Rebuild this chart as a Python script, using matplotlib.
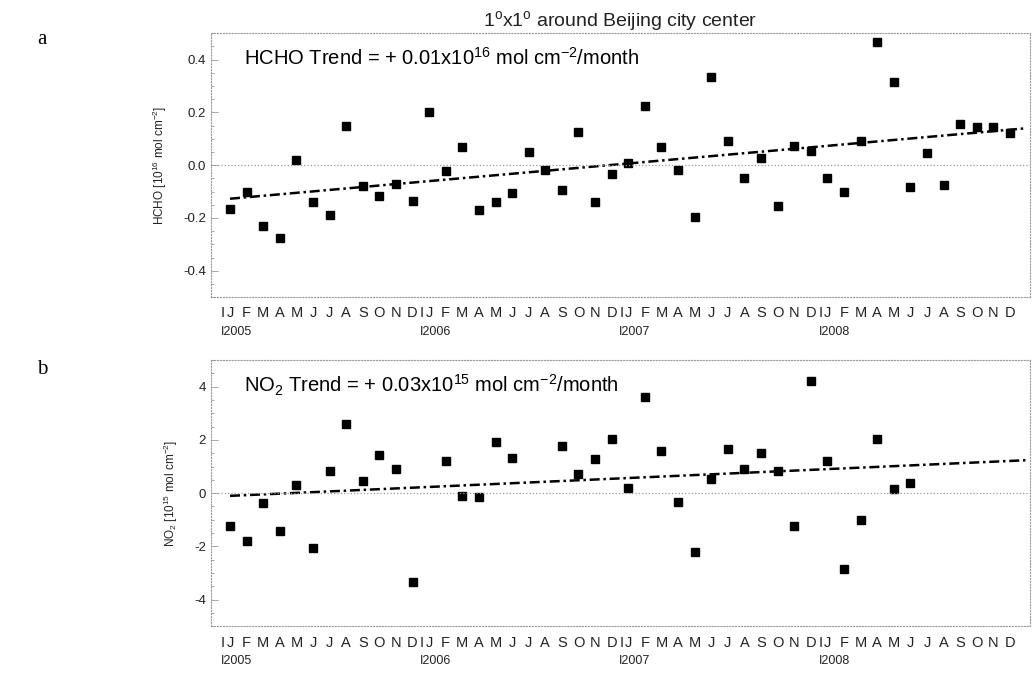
import matplotlib
matplotlib.use("Agg")
import matplotlib.pyplot as plt
import matplotlib.transforms as mtrans
import numpy as np

plt.rcParams['mathtext.fontset'] = 'custom'
plt.rcParams['mathtext.rm'] = 'Liberation Sans'
plt.rcParams['mathtext.it'] = 'Liberation Sans:italic'

# monthly anomalies, Jan 2005 .. Dec 2008
months = ['J','F','M','A','M','J','J','A','S','O','N','D']
years  = ['2005','2006','2007','2008']

hcho = [-0.165, -0.10, -0.23, -0.276, 0.02, -0.14, -0.19, 0.148, -0.079, -0.117, -0.073, -0.134,
         0.20, -0.022, 0.067, -0.17, -0.139, -0.107, 0.051, -0.019, -0.094, 0.127, -0.14, -0.035,
         0.010, 0.223, 0.070, -0.018, -0.197, 0.335, 0.093, -0.050, 0.029, -0.153, 0.074, 0.055,
        -0.047, -0.10, 0.093, 0.467, 0.316, -0.081, 0.048, -0.075, 0.156, 0.146, 0.144, 0.121]

no2 = [-1.24, -1.81, -0.38, -1.43, 0.30, -2.06, 0.85, 2.61, 0.47, 1.44, 0.91, -3.32,
       np.nan, 1.20, -0.10, -0.16, 1.92, 1.31, np.nan, np.nan, 1.79, 0.72, 1.29, 2.05,
       0.20, 3.60, 1.58, -0.32, -2.20, 0.55, 1.66, 0.90, 1.50, 0.85, -1.25, 4.20,
       1.20, -2.85, -1.00, 2.05, 0.15, 0.40, np.nan, np.nan, np.nan, np.nan, np.nan, np.nan]

# trend line end values (month 0 and month 48)
hcho_trend = [-0.127, 0.14]
no2_trend  = [-0.10, 1.24]

x = np.arange(48)
gray = '#9a9a9a'
txt = '#222222'

fig = plt.figure(figsize=(10.34, 6.77), dpi=100)
ax1 = fig.add_axes([0.204, 0.561, 0.792, 0.390])
ax2 = fig.add_axes([0.204, 0.075, 0.792, 0.393])

def style(ax, ylim, yticks, fmt, trend, y, ylabel, note):
    ax.plot(x, y, 's', color='black', ms=5.4, mec='black')
    ax.plot([0, 48], trend, color='black', ls=(0, (4, 1.5, 1, 1.5)), lw=1.8)
    ax.axhline(0, color=gray, ls=':', lw=0.9)
    ax.set_xlim(-1.15, 48.2)
    ax.set_ylim(*ylim)
    ax.set_yticks(yticks)
    ax.set_yticklabels([fmt % v for v in yticks], fontsize=9.5, color=txt, family='Liberation Sans')
    ax.set_yticks(np.linspace(ylim[0], ylim[1], 21), minor=True)
    ax.tick_params(axis='y', which='both', direction='in', color=gray, length=5, width=0.6)
    ax.tick_params(axis='y', which='minor', length=2)
    ax.set_xticks([])
    for s in ax.spines.values():
        s.set_color(gray)
        s.set_linestyle(':')
        s.set_linewidth(0.8)
    ax.set_ylabel(ylabel, fontsize=8.5, color=txt, family='Liberation Sans', labelpad=10)
    ax.text(0.04, 0.905, note, transform=ax.transAxes, va='center',
            fontsize=14.5, family='Liberation Sans', color='black')
    tr = mtrans.blended_transform_factory(ax.transData, ax.transAxes)
    for i in x:
        ax.text(i, -0.035, months[i % 12], transform=tr, ha='center', va='top',
                fontsize=10.5, color=txt, family='Liberation Sans')
    for k, yr in enumerate(years):
        xi = 12 * k - 0.42
        ax.text(xi, -0.035, 'I', transform=tr, ha='center', va='top',
                fontsize=10.5, color=txt, family='Liberation Sans')
        ax.text(xi - 0.12, -0.11, 'I' + yr, transform=tr, ha='left', va='top',
                fontsize=9, color=txt, family='Liberation Sans')

style(ax1, (-0.5, 0.5), [-0.4, -0.2, 0.0, 0.2, 0.4], '%.1f', hcho_trend, hcho,
      'HCHO [10$^{16}$ mol cm$^{-2}$]',
      'HCHO Trend = + 0.01x10$^{16}$ mol cm$^{-2}$/month')
style(ax2, (-5, 5), [-4, -2, 0, 2, 4], '%d', no2_trend, no2,
      'NO$_2$ [10$^{15}$ mol cm$^{-2}$]',
      'NO$_2$ Trend = + 0.03x10$^{15}$ mol cm$^{-2}$/month')

ax1.set_title('1$^{\\rm o}$x1$^{\\rm o}$ around Beijing city center', fontsize=14,
              family='Liberation Sans', color=txt, pad=5)

fig.text(0.036, 0.935, 'a', fontsize=15, family='Liberation Serif')
fig.text(0.036, 0.447, 'b', fontsize=15, family='Liberation Serif')

fig.savefig('out.png', dpi=100)
